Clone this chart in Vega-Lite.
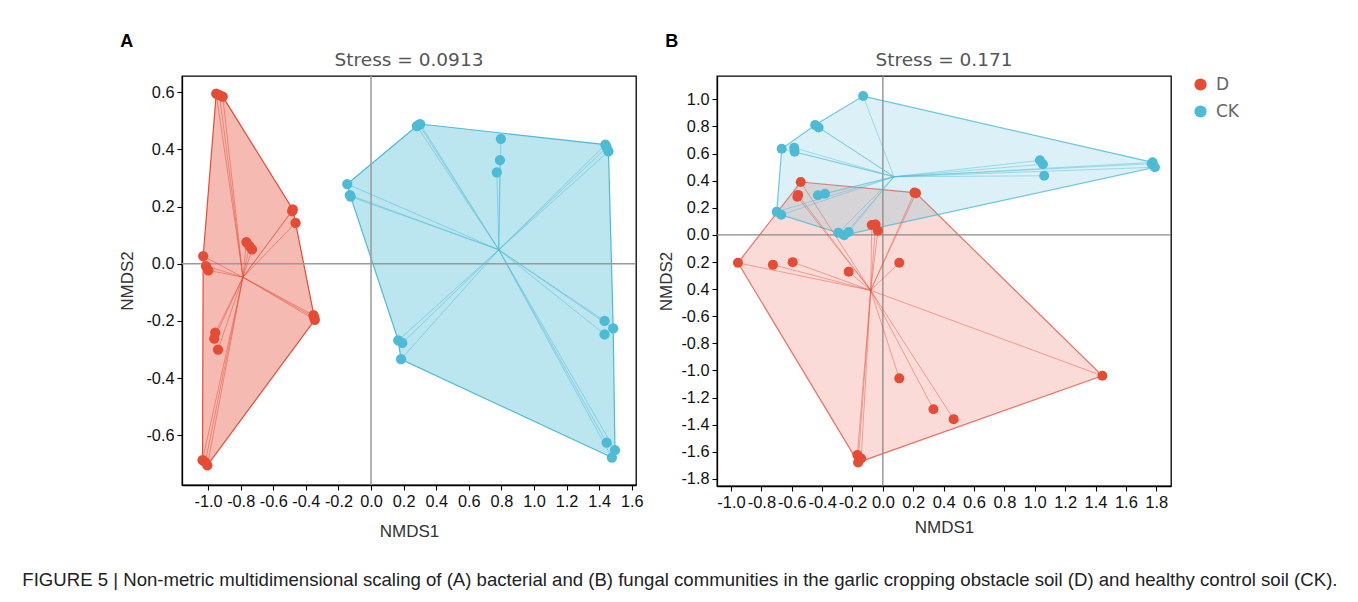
{
  "$schema": "https://vega.github.io/schema/vega-lite/v6.json",
  "background": "white",
  "padding": {"left": 22, "top": 33, "right": 5, "bottom": 6},
  "config": {
    "view": {"stroke": "#000", "strokeWidth": 1.3},
    "axis": {"grid": false, "domainColor": "#000", "domainWidth": 1.3, "tickColor": "#000", "tickWidth": 1.1, "tickSize": 5, "tickCount": 40, "labelFont": "Liberation Sans", "labelFontSize": 16.3, "labelColor": "#111", "labelPadding": 3, "titleFont": "Liberation Sans", "titleFontSize": 17, "titleFontWeight": "normal", "titleColor": "#333", "labelOverlap": false, "labelBound": false, "labelFlush": false},
    "legend": {"title": null, "orient": "right", "offset": 19, "padding": 0, "symbolType": "circle", "symbolSize": 150, "symbolStrokeWidth": 0, "symbolOpacity": 1, "labelFont": "DejaVu Sans", "labelFontSize": 17, "labelColor": "#666", "labelOffset": 7, "rowPadding": 9},
    "title": {"font": "DejaVu Sans", "fontSize": 18.5, "fontWeight": "normal", "color": "#555", "offset": 6}
  },
  "datasets": {
    "ptsA": [
      {"group": "D", "x": -0.95, "y": 0.595}, {"group": "D", "x": -0.93, "y": 0.59}, {"group": "D", "x": -0.91, "y": 0.585},
      {"group": "D", "x": -0.48, "y": 0.19}, {"group": "D", "x": -0.484, "y": 0.184}, {"group": "D", "x": -0.463, "y": 0.143},
      {"group": "D", "x": -0.765, "y": 0.076}, {"group": "D", "x": -0.746, "y": 0.062}, {"group": "D", "x": -0.73, "y": 0.05},
      {"group": "D", "x": -1.03, "y": 0.027}, {"group": "D", "x": -1.013, "y": -0.008}, {"group": "D", "x": -0.998, "y": -0.023},
      {"group": "D", "x": -0.353, "y": -0.18}, {"group": "D", "x": -0.345, "y": -0.196}, {"group": "D", "x": -0.349, "y": -0.188},
      {"group": "D", "x": -0.956, "y": -0.241}, {"group": "D", "x": -0.962, "y": -0.262}, {"group": "D", "x": -0.939, "y": -0.3},
      {"group": "D", "x": -1.034, "y": -0.687}, {"group": "D", "x": -1.017, "y": -0.694}, {"group": "D", "x": -1.004, "y": -0.705},
      {"group": "CK", "x": -0.146, "y": 0.279}, {"group": "CK", "x": -0.13, "y": 0.24}, {"group": "CK", "x": -0.125, "y": 0.235},
      {"group": "CK", "x": 0.281, "y": 0.482}, {"group": "CK", "x": 0.294, "y": 0.487}, {"group": "CK", "x": 0.302, "y": 0.489},
      {"group": "CK", "x": 0.797, "y": 0.437}, {"group": "CK", "x": 0.791, "y": 0.363}, {"group": "CK", "x": 0.772, "y": 0.32},
      {"group": "CK", "x": 1.438, "y": 0.417}, {"group": "CK", "x": 1.446, "y": 0.407}, {"group": "CK", "x": 1.457, "y": 0.393},
      {"group": "CK", "x": 1.433, "y": -0.2}, {"group": "CK", "x": 1.486, "y": -0.226}, {"group": "CK", "x": 1.433, "y": -0.247},
      {"group": "CK", "x": 0.167, "y": -0.268}, {"group": "CK", "x": 0.192, "y": -0.277}, {"group": "CK", "x": 0.184, "y": -0.334},
      {"group": "CK", "x": 1.446, "y": -0.626}, {"group": "CK", "x": 1.497, "y": -0.652}, {"group": "CK", "x": 1.478, "y": -0.678}
    ],
    "centA": [
      {"group": "D", "cx": -0.786, "cy": -0.047},
      {"group": "CK", "cx": 0.784, "cy": 0.049}
    ],
    "hullA": [
      {"group": "D", "i": 1, "x": -0.95, "y": 0.595}, {"group": "D", "i": 2, "x": -0.91, "y": 0.585},
      {"group": "D", "i": 3, "x": -0.48, "y": 0.19}, {"group": "D", "i": 4, "x": -0.463, "y": 0.143},
      {"group": "D", "i": 5, "x": -0.345, "y": -0.196}, {"group": "D", "i": 6, "x": -1.004, "y": -0.705},
      {"group": "D", "i": 7, "x": -1.034, "y": -0.687}, {"group": "D", "i": 8, "x": -1.03, "y": 0.027},
      {"group": "CK", "i": 1, "x": -0.146, "y": 0.279}, {"group": "CK", "i": 2, "x": 0.281, "y": 0.482},
      {"group": "CK", "i": 3, "x": 0.302, "y": 0.489}, {"group": "CK", "i": 4, "x": 1.438, "y": 0.417},
      {"group": "CK", "i": 5, "x": 1.457, "y": 0.393}, {"group": "CK", "i": 6, "x": 1.486, "y": -0.226},
      {"group": "CK", "i": 7, "x": 1.497, "y": -0.652}, {"group": "CK", "i": 8, "x": 1.478, "y": -0.678},
      {"group": "CK", "i": 9, "x": 0.184, "y": -0.334}, {"group": "CK", "i": 10, "x": 0.167, "y": -0.268},
      {"group": "CK", "i": 11, "x": -0.125, "y": 0.235}
    ],
    "ptsB": [
      {"group": "D", "x": -0.954, "y": -0.206}, {"group": "D", "x": -0.724, "y": -0.22}, {"group": "D", "x": -0.594, "y": -0.201},
      {"group": "D", "x": -0.225, "y": -0.271}, {"group": "D", "x": 0.108, "y": -0.206},
      {"group": "D", "x": -0.541, "y": 0.39}, {"group": "D", "x": -0.563, "y": 0.281}, {"group": "D", "x": -0.558, "y": 0.295},
      {"group": "D", "x": 0.218, "y": 0.308}, {"group": "D", "x": 0.208, "y": 0.312},
      {"group": "D", "x": -0.073, "y": 0.073}, {"group": "D", "x": -0.048, "y": 0.077}, {"group": "D", "x": -0.033, "y": 0.031},
      {"group": "D", "x": 1.445, "y": -1.039}, {"group": "D", "x": 0.108, "y": -1.058}, {"group": "D", "x": 0.333, "y": -1.286},
      {"group": "D", "x": 0.466, "y": -1.359},
      {"group": "D", "x": -0.168, "y": -1.623}, {"group": "D", "x": -0.143, "y": -1.649}, {"group": "D", "x": -0.163, "y": -1.678},
      {"group": "CK", "x": -0.13, "y": 1.024},
      {"group": "CK", "x": -0.446, "y": 0.811}, {"group": "CK", "x": -0.423, "y": 0.792},
      {"group": "CK", "x": -0.666, "y": 0.635},
      {"group": "CK", "x": -0.584, "y": 0.642}, {"group": "CK", "x": -0.581, "y": 0.613},
      {"group": "CK", "x": 1.034, "y": 0.55}, {"group": "CK", "x": 1.054, "y": 0.521}, {"group": "CK", "x": 1.062, "y": 0.436},
      {"group": "CK", "x": 1.776, "y": 0.535}, {"group": "CK", "x": 1.791, "y": 0.499}, {"group": "CK", "x": 1.77, "y": 0.525},
      {"group": "CK", "x": -0.428, "y": 0.293}, {"group": "CK", "x": -0.381, "y": 0.303},
      {"group": "CK", "x": -0.699, "y": 0.17}, {"group": "CK", "x": -0.669, "y": 0.148},
      {"group": "CK", "x": -0.293, "y": 0.015}, {"group": "CK", "x": -0.255, "y": -0.002}, {"group": "CK", "x": -0.225, "y": 0.022}
    ],
    "centB": [
      {"group": "D", "cx": -0.08, "cy": -0.409},
      {"group": "CK", "cx": 0.073, "cy": 0.429}
    ],
    "hullB": [
      {"group": "D", "i": 1, "x": -0.954, "y": -0.206}, {"group": "D", "i": 2, "x": -0.541, "y": 0.39},
      {"group": "D", "i": 3, "x": 0.208, "y": 0.312}, {"group": "D", "i": 4, "x": 0.218, "y": 0.308},
      {"group": "D", "i": 5, "x": 1.445, "y": -1.039}, {"group": "D", "i": 6, "x": -0.163, "y": -1.678},
      {"group": "CK", "i": 1, "x": -0.13, "y": 1.024}, {"group": "CK", "i": 2, "x": 1.776, "y": 0.535},
      {"group": "CK", "i": 3, "x": 1.791, "y": 0.499}, {"group": "CK", "i": 4, "x": -0.255, "y": -0.002},
      {"group": "CK", "i": 5, "x": -0.293, "y": 0.015}, {"group": "CK", "i": 6, "x": -0.669, "y": 0.148},
      {"group": "CK", "i": 7, "x": -0.699, "y": 0.17}, {"group": "CK", "i": 8, "x": -0.666, "y": 0.635},
      {"group": "CK", "i": 9, "x": -0.446, "y": 0.811}
    ]
  },
  "title": {
    "text": "FIGURE 5 | Non-metric multidimensional scaling of (A) bacterial and (B) fungal communities in the garlic cropping obstacle soil (D) and healthy control soil (CK).",
    "orient": "bottom", "anchor": "start", "font": "Liberation Sans", "fontSize": 18.6, "fontWeight": "normal", "color": "#222", "offset": 31, "dx": -96
  },
  "spacing": 13,
  "resolve": {"scale": {"x": "independent", "y": "independent"}},
  "hconcat": [
    {
      "title": {"text": "A", "anchor": "start", "font": "Liberation Sans", "fontSize": 18, "fontWeight": "bold", "color": "#000", "dx": 2, "offset": -1},
      "vconcat": [
        {
          "width": 454, "height": 409,
          "title": {"text": "Stress = 0.0913"},
          "layer": [
            {
              "data": {"name": "hullA"},
              "transform": [{"filter": "datum.group === 'D'"}],
              "mark": {"type": "line", "interpolate": "linear-closed", "fill": "#E64B35", "fillOpacity": 0.38, "stroke": "#E64B35", "strokeWidth": 1.2},
              "encoding": {
                "x": {"field": "x", "type": "quantitative", "scale": {"domain": [-1.16, 1.626], "nice": false, "zero": false},
                  "axis": {"title": "NMDS1", "tickCount": 40, "values": [-1, -0.8, -0.6, -0.4, -0.2, 0, 0.2, 0.4, 0.6, 0.8, 1, 1.2, 1.4, 1.6], "labelExpr": "replace(format(datum.value, '.1f'), '\u2212', '-')", "titlePadding": 14}},
                "y": {"field": "y", "type": "quantitative", "scale": {"domain": [-0.774, 0.657], "nice": false, "zero": false},
                  "axis": {"title": "NMDS2", "tickCount": 40, "values": [-0.6, -0.4, -0.2, 0, 0.2, 0.4, 0.6], "labelExpr": "replace(format(datum.value, '.1f'), '\u2212', '-')", "titlePadding": 9}},
                "order": {"field": "i", "type": "quantitative"}
              }
            },
            {
              "data": {"name": "hullA"},
              "transform": [{"filter": "datum.group === 'CK'"}],
              "mark": {"type": "line", "interpolate": "linear-closed", "fill": "#4DBBD5", "fillOpacity": 0.38, "stroke": "#4DBBD5", "strokeWidth": 1.2},
              "encoding": {
                "x": {"field": "x", "type": "quantitative"},
                "y": {"field": "y", "type": "quantitative"},
                "order": {"field": "i", "type": "quantitative"}
              }
            },
            {
              "data": {"values": [{}]},
              "mark": {"type": "rule", "color": "#9a9a9a", "strokeWidth": 1.5},
              "encoding": {"x": {"datum": 0, "type": "quantitative"}}
            },
            {
              "data": {"values": [{}]},
              "mark": {"type": "rule", "color": "#9a9a9a", "strokeWidth": 1.5},
              "encoding": {"y": {"datum": 0, "type": "quantitative"}}
            },
            {
              "data": {"name": "ptsA"},
              "transform": [{"lookup": "group", "from": {"data": {"name": "centA"}, "key": "group", "fields": ["cx", "cy"]}}],
              "mark": {"type": "rule", "strokeWidth": 1, "opacity": 0.5},
              "encoding": {
                "x": {"field": "cx", "type": "quantitative"},
                "y": {"field": "cy", "type": "quantitative"},
                "x2": {"field": "x"},
                "y2": {"field": "y"},
                "color": {"field": "group", "type": "nominal", "scale": {"domain": ["D", "CK"], "range": ["#E64B35", "#4DBBD5"]}}
              }
            },
            {
              "data": {"name": "ptsA"},
              "mark": {"type": "circle", "size": 105, "opacity": 1},
              "encoding": {
                "x": {"field": "x", "type": "quantitative"},
                "y": {"field": "y", "type": "quantitative"},
                "color": {"field": "group", "type": "nominal", "scale": {"domain": ["D", "CK"], "range": ["#E64B35", "#4DBBD5"]}}
              }
            }
          ]
        }
      ]
    },
    {
      "title": {"text": "B", "anchor": "start", "font": "Liberation Sans", "fontSize": 18, "fontWeight": "bold", "color": "#000", "dx": 8, "offset": -1},
      "vconcat": [
        {
          "width": 454, "height": 410,
          "title": {"text": "Stress = 0.171"},
          "layer": [
            {
              "data": {"name": "hullB"},
              "transform": [{"filter": "datum.group === 'D'"}],
              "mark": {"type": "line", "interpolate": "linear-closed", "fill": "#E64B35", "fillOpacity": 0.2, "stroke": "#E64B35", "strokeOpacity": 0.75, "strokeWidth": 1.2},
              "encoding": {
                "x": {"field": "x", "type": "quantitative", "scale": {"domain": [-1.092, 1.897], "nice": false, "zero": false},
                  "axis": {"title": "NMDS1", "tickCount": 40, "labelFontSize": 16.5, "values": [-1, -0.8, -0.6, -0.4, -0.2, 0, 0.2, 0.4, 0.6, 0.8, 1, 1.2, 1.4, 1.6, 1.8], "labelExpr": "replace(format(datum.value, '.1f'), '\u2212', '-')", "titlePadding": 9}},
                "y": {"field": "y", "type": "quantitative", "scale": {"domain": [-1.852, 1.172], "nice": false, "zero": false},
                  "axis": {"title": "NMDS2", "tickCount": 40, "labelFontSize": 16.3, "values": [-1.8, -1.6, -1.4, -1.2, -1, -0.8, -0.6, -0.4, -0.2, 0, 0.2, 0.4, 0.6, 0.8, 1], "labelExpr": "datum.value > -0.5 && datum.value < 0 ? format(abs(datum.value), '.1f') : replace(format(datum.value, '.1f'), '\u2212', '-')", "titlePadding": 5}},
                "order": {"field": "i", "type": "quantitative"}
              }
            },
            {
              "data": {"name": "hullB"},
              "transform": [{"filter": "datum.group === 'CK'"}],
              "mark": {"type": "line", "interpolate": "linear-closed", "fill": "#4DBBD5", "fillOpacity": 0.2, "stroke": "#4DBBD5", "strokeOpacity": 0.8, "strokeWidth": 1.2},
              "encoding": {
                "x": {"field": "x", "type": "quantitative"},
                "y": {"field": "y", "type": "quantitative"},
                "order": {"field": "i", "type": "quantitative"}
              }
            },
            {
              "data": {"values": [{}]},
              "mark": {"type": "rule", "color": "#8a8a8a", "strokeWidth": 1.3},
              "encoding": {"x": {"datum": 0, "type": "quantitative"}}
            },
            {
              "data": {"values": [{}]},
              "mark": {"type": "rule", "color": "#8a8a8a", "strokeWidth": 1.3},
              "encoding": {"y": {"datum": 0, "type": "quantitative"}}
            },
            {
              "data": {"name": "ptsB"},
              "transform": [{"lookup": "group", "from": {"data": {"name": "centB"}, "key": "group", "fields": ["cx", "cy"]}}],
              "mark": {"type": "rule", "strokeWidth": 1, "opacity": 0.45},
              "encoding": {
                "x": {"field": "cx", "type": "quantitative"},
                "y": {"field": "cy", "type": "quantitative"},
                "x2": {"field": "x"},
                "y2": {"field": "y"},
                "color": {"field": "group", "type": "nominal", "scale": {"domain": ["D", "CK"], "range": ["#E64B35", "#4DBBD5"]}}
              }
            },
            {
              "data": {"name": "ptsB"},
              "mark": {"type": "circle", "size": 100, "opacity": 1},
              "encoding": {
                "x": {"field": "x", "type": "quantitative"},
                "y": {"field": "y", "type": "quantitative"},
                "color": {"field": "group", "type": "nominal", "scale": {"domain": ["D", "CK"], "range": ["#E64B35", "#4DBBD5"]}}
              }
            }
          ]
        }
      ]
    }
  ]
}
